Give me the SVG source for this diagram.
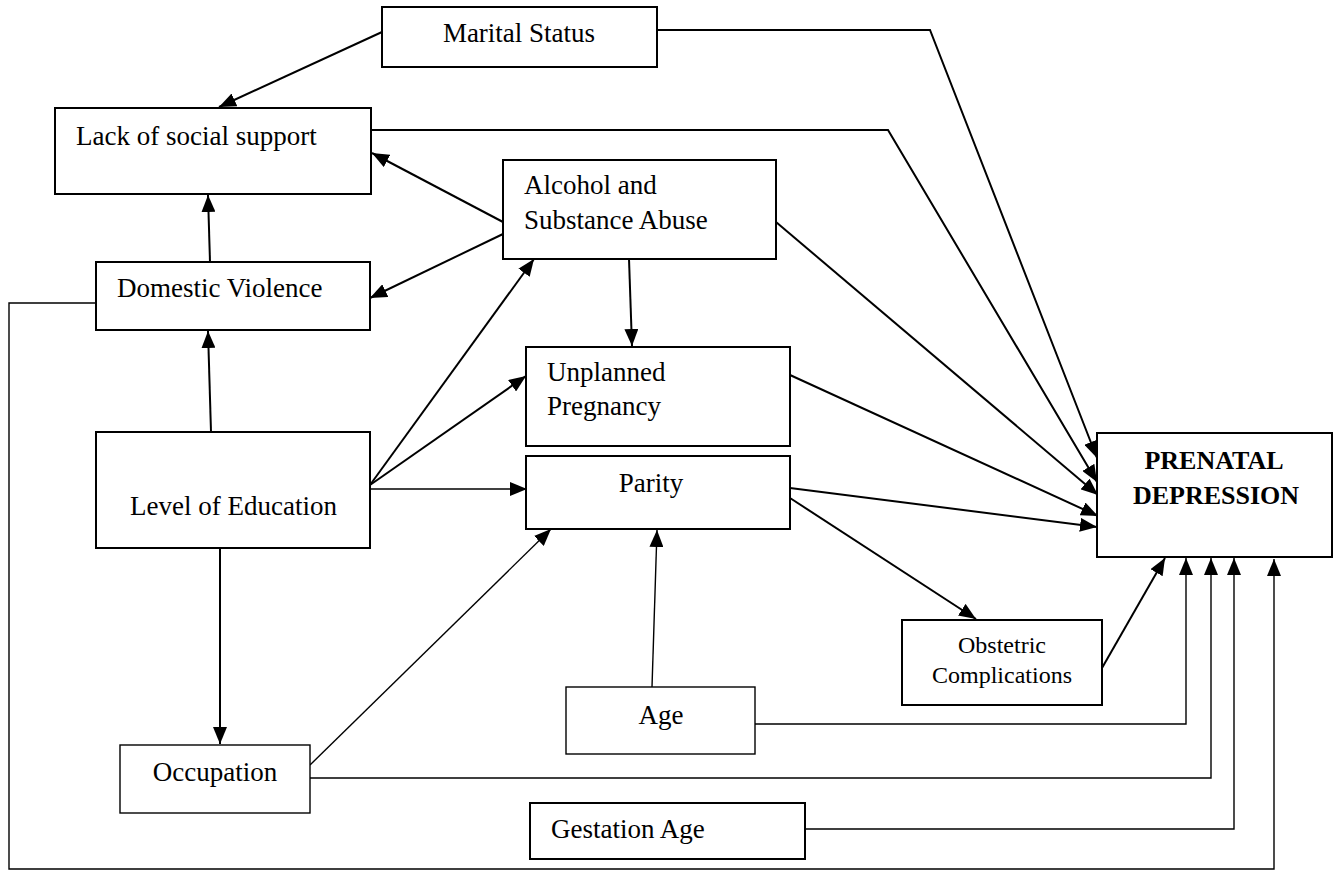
<svg xmlns="http://www.w3.org/2000/svg" width="1334" height="871" viewBox="0 0 1334 871">
<style>
.box{fill:#fff;stroke:#000;stroke-width:2}
.t{font-family:"Liberation Serif","Times New Roman",serif;font-size:27px;fill:#000}
.b{font-weight:bold;font-size:26px}
.c{fill:none;stroke:#000;stroke-width:2}
.th{fill:none;stroke:#000;stroke-width:1.4}
</style>
<defs>
<marker id="ah" markerUnits="userSpaceOnUse" markerWidth="18" markerHeight="14" refX="17" refY="7" orient="auto">
<path d="M0,0 L17,7 L0,14 Z" fill="#000"/>
</marker>
</defs>
<rect width="1334" height="871" fill="#fff"/>
<g id="connectors">
<line class="c" x1="382" y1="32" x2="219" y2="107" marker-end="url(#ah)"/>
<polyline class="c" points="657,30 930,30 1097,458" marker-end="url(#ah)"/>
<polyline class="c" points="371,130 888,130 1097,482" marker-end="url(#ah)"/>
<line class="c" x1="776" y1="222" x2="1098" y2="495" marker-end="url(#ah)"/>
<line class="c" x1="790" y1="375" x2="1098" y2="516" marker-end="url(#ah)"/>
<line class="c" x1="790" y1="488" x2="1097" y2="527" marker-end="url(#ah)"/>
<line class="c" x1="790" y1="498" x2="976" y2="619" marker-end="url(#ah)"/>
<line class="c" x1="1102" y1="668" x2="1165" y2="558" marker-end="url(#ah)"/>
<polyline class="th" points="755,724 1186,724 1186,558" marker-end="url(#ah)"/>
<polyline class="th" points="310,778 1211,778 1211,558" marker-end="url(#ah)"/>
<polyline class="th" points="805,829 1234,829 1234,558" marker-end="url(#ah)"/>
<polyline class="th" points="96,303 9,303 9,869 1274,869 1274,559" marker-end="url(#ah)"/>
<line class="c" x1="210" y1="262" x2="208" y2="195" marker-end="url(#ah)"/>
<line class="c" x1="211" y1="432" x2="208" y2="331" marker-end="url(#ah)"/>
<line class="c" x1="503" y1="222" x2="372" y2="153" marker-end="url(#ah)"/>
<line class="c" x1="503" y1="234" x2="370" y2="298" marker-end="url(#ah)"/>
<line class="c" x1="629" y1="259" x2="632" y2="346" marker-end="url(#ah)"/>
<line class="c" x1="370" y1="485" x2="534" y2="259" marker-end="url(#ah)"/>
<line class="c" x1="370" y1="485" x2="526" y2="376" marker-end="url(#ah)"/>
<line class="th" x1="370" y1="489" x2="527" y2="489" marker-end="url(#ah)"/>
<line class="c" x1="220" y1="548" x2="220" y2="744" marker-end="url(#ah)"/>
<line class="th" x1="310" y1="765" x2="551" y2="529" marker-end="url(#ah)"/>
<line class="th" x1="652" y1="687" x2="657" y2="530" marker-end="url(#ah)"/>
</g>
<g id="marital"><rect class="box" x="382" y="7" width="275" height="60"/><text class="t" x="519" y="42" text-anchor="middle">Marital Status</text></g>
<g id="social"><rect class="box" x="55" y="108" width="316" height="86"/><text class="t" x="76" y="145">Lack of social support</text></g>
<g id="alcohol"><rect class="box" x="503" y="160" width="273" height="99"/><text class="t" x="524" y="194">Alcohol and</text><text class="t" x="524" y="229">Substance Abuse</text></g>
<g id="domestic"><rect class="box" x="96" y="262" width="274" height="68"/><text class="t" x="117" y="297">Domestic Violence</text></g>
<g id="unplanned"><rect class="box" x="526" y="347" width="264" height="99"/><text class="t" x="547" y="381">Unplanned</text><text class="t" x="547" y="415">Pregnancy</text></g>
<g id="parity"><rect class="box" x="526" y="456" width="264" height="73"/><text class="t" x="651" y="492" text-anchor="middle">Parity</text></g>
<g id="education"><rect class="box" x="96" y="432" width="274" height="116"/><text class="t" x="130" y="515">Level of Education</text></g>
<g id="prenatal"><rect class="box" x="1097" y="433" width="235" height="124"/><text class="t b" x="1214" y="469" text-anchor="middle">PRENATAL</text><text class="t b" x="1216" y="504" text-anchor="middle">DEPRESSION</text></g>
<g id="obstetric"><rect class="box" x="902" y="620" width="200" height="85"/><text class="t" x="1002" y="653" text-anchor="middle" style="font-size:24px">Obstetric</text><text class="t" x="1002" y="683" text-anchor="middle" style="font-size:24px">Complications</text></g>
<g id="age"><rect class="box" x="566" y="687" width="189" height="67" style="stroke-width:1.4"/><text class="t" x="661" y="724" text-anchor="middle">Age</text></g>
<g id="occupation"><rect class="box" x="120" y="745" width="190" height="68" style="stroke-width:1.4"/><text class="t" x="215" y="781" text-anchor="middle">Occupation</text></g>
<g id="gestation"><rect class="box" x="530" y="803" width="275" height="56"/><text class="t" x="551" y="838">Gestation Age</text></g>
</svg>
